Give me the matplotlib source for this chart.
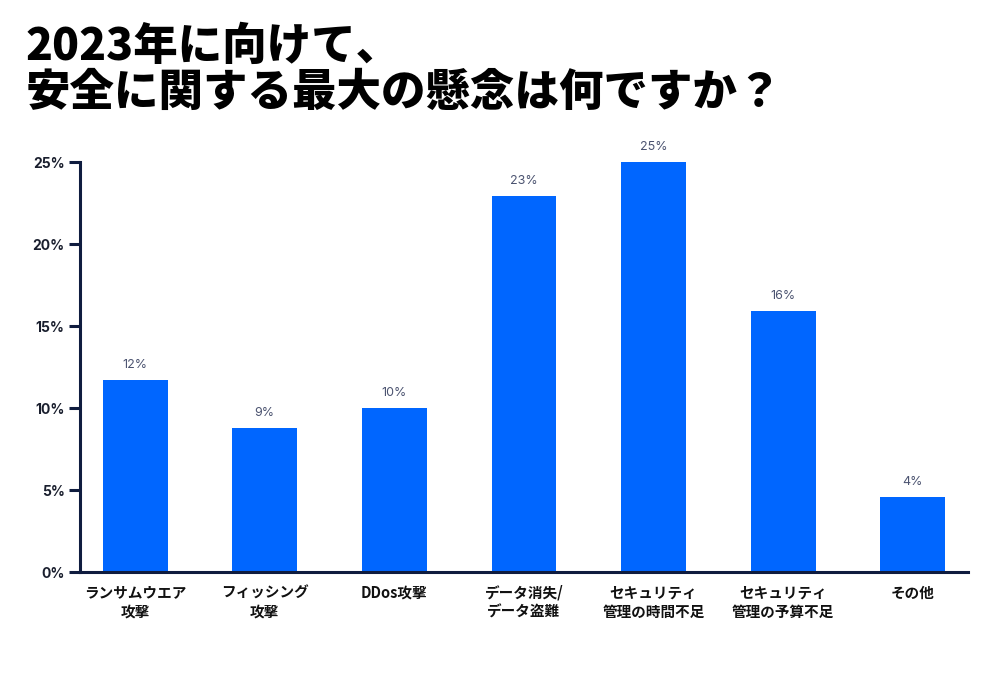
import matplotlib
matplotlib.use("Agg")
import matplotlib.pyplot as plt
from matplotlib.ticker import FixedLocator

categories = ["ランサムウエア\n攻撃", "フィッシング\n攻撃", "DDos攻撃", "データ消失/\nデータ盗難",
              "セキュリティ\n管理の時間不足", "セキュリティ\n管理の予算不足", "その他"]
values = [11.7, 8.8, 10.0, 22.9, 25.0, 15.9, 4.6]
value_labels = ["12%", "9%", "10%", "23%", "25%", "16%", "4%"]
yticks = [0, 5, 10, 15, 20, 25]
ytick_labels = ["0%", "5%", "10%", "15%", "20%", "25%"]
title_lines = ["2023年に向けて、", "安全に関する最大の懸念は何ですか？"]

plt.rcParams['font.family'] = ['Noto Sans CJK JP', 'DejaVu Sans']

fig = plt.figure(figsize=(10, 6.74), dpi=100)
ax = fig.add_axes([0.08, 0.1513, 0.888, 0.6083])

navy = "#0f1c3f"
blue = "#0066ff"
x = list(range(len(categories)))
bars = ax.bar(x, values, width=0.5, color=blue, zorder=2)
for b, lab in zip(bars, value_labels):
    ax.text(b.get_x() + b.get_width() / 2, b.get_height() + 0.55, lab,
            ha="center", va="bottom", fontsize=9, color="#4b5370",
            family=['Inter', 'DejaVu Sans'], clip_on=False)

ax.set_xlim(-0.425, 6.425)
ax.set_ylim(0, 25)
ax.yaxis.set_major_locator(FixedLocator(yticks))
ax.set_yticklabels(ytick_labels, fontsize=10, fontweight="bold", color="#1a1f2e",
                   family=['Inter', 'DejaVu Sans'])
ax.set_xticks(x)
ax.set_xticklabels(categories, fontsize=10.5, fontweight="bold", color="#111111",
                   linespacing=1.25, va="top")
ax.tick_params(axis="x", length=0, pad=9)
ax.tick_params(axis="y", length=8, width=2.2, color=navy, pad=3)

for s in ["top", "right"]:
    ax.spines[s].set_visible(False)
for s in ["left", "bottom"]:
    ax.spines[s].set_color(navy)
    ax.spines[s].set_linewidth(2.2)

fig.text(0.026, 1 - 106 / 674, "\n".join(title_lines), fontsize=32, fontweight="heavy",
         ha="left", va="baseline", color="black", linespacing=1.04)

fig.savefig("out.png", dpi=100, facecolor="white")
